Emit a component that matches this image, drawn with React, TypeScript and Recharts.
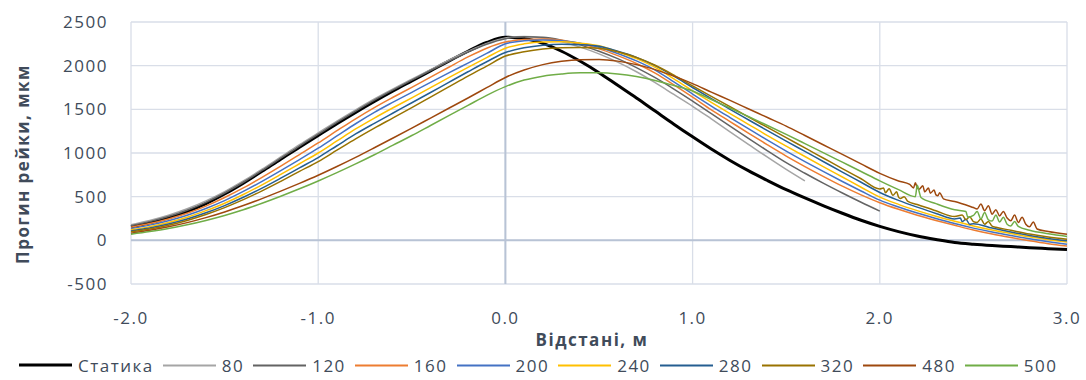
import React from 'react';
import { LineChart, Line, XAxis, YAxis, CartesianGrid, ReferenceLine } from 'recharts';

// distance grid, m
const X = [
  -2.0, -1.9, -1.8, -1.7, -1.6, -1.5, -1.4, -1.3, -1.2, -1.1,
  -1.0, -0.9, -0.8, -0.7, -0.6, -0.5, -0.4, -0.3, -0.2, -0.1,
  0.0, 0.1, 0.2, 0.3, 0.4, 0.5, 0.6, 0.7, 0.8, 0.9,
  1.0, 1.1, 1.2, 1.3, 1.4, 1.5, 1.6, 1.7, 1.8, 1.9,
  2.0, 2.1, 2.2, 2.3, 2.4, 2.5, 2.6, 2.7, 2.8, 2.9,
  3.0,
];

const X_TICKS = [-2, -1, 0, 1, 2, 3];
const Y_TICKS = [-500, 0, 500, 1000, 1500, 2000, 2500];

// rail deflection, mkm
const STATIC = [
  155, 200, 258, 330, 420, 530, 655, 790, 930, 1065,
  1200, 1335, 1465, 1590, 1710, 1825, 1940, 2055, 2165, 2265,
  2325, 2310, 2255, 2165, 2050, 1920, 1775, 1630, 1480, 1330,
  1185, 1045, 915, 795, 685, 580, 485, 395, 310, 230,
  160, 100, 50, 10, -25, -45, -60, -72, -85, -95,
  -105,
];
const V80 = [
  180, 228, 288, 362, 452, 558, 680, 815, 955, 1095,
  1230, 1365, 1495, 1620, 1735, 1845, 1955, 2065, 2165, 2255,
  2318, 2335, 2318, 2275, 2212, 2135, 2040, 1930, 1805, 1670,
  1535, 1390, 1243, 1097, 952, 812, 680, null, null, null,
  null, null, null, null, null, null, null, null, null, null,
  null,
];
const V120 = [
  168, 214, 272, 345, 435, 542, 665, 800, 940, 1080,
  1215, 1350, 1480, 1605, 1722, 1835, 1945, 2052, 2155, 2245,
  2308, 2330, 2325, 2292, 2238, 2165, 2080, 1978, 1862, 1732,
  1594, 1450, 1307, 1165, 1025, 889, 768, 652, 542, 436,
  335, null, null, null, null, null, null, null, null, null,
  null,
];
const V160 = [
  150, 192, 245, 310, 392, 490, 600, 722, 850, 982,
  1115, 1255, 1392, 1520, 1638, 1752, 1868, 1985, 2100, 2200,
  2270, 2300, 2305, 2290, 2250, 2192, 2115, 2025, 1915, 1780,
  1640, 1495, 1360, 1225, 1093, 965, 845, 730, 620, 520,
  430, 355, 288, 228, 172, 118, 72, 32, -5, -38,
  -65,
];
const V200 = [
  135, 174, 224, 287, 365, 455, 560, 675, 798, 925,
  1055, 1195, 1335, 1465, 1582, 1695, 1808, 1920, 2030, 2140,
  2250, 2285, 2295, 2285, 2258, 2212, 2140, 2055, 1950, 1815,
  1675, 1538, 1406, 1276, 1147, 1022, 902, 786, 674, 565,
  460, 382, 312, 250, 192, 140, 95, 55, 18, -15,
  -45,
];
const V240 = [
  120, 157, 205, 265, 340, 425, 525, 636, 755, 877,
  1000, 1138, 1275, 1400, 1518, 1632, 1748, 1865, 1980, 2092,
  2200, 2250, 2272, 2275, 2258, 2228, 2160, 2080, 1980, 1850,
  1712, 1580, 1452, 1326, 1200, 1079, 960, 842, 725, 608,
  495, 412, 340, 275, 218, 165, 118, 78, 40, 8,
  -20,
];
const V280 = [
  108, 142, 187, 244, 315, 398, 493, 598, 712, 830,
  948, 1083, 1218, 1340, 1458, 1575, 1693, 1812, 1930, 2045,
  2150, 2205, 2235, 2245, 2240, 2222, 2165, 2095, 2000, 1880,
  1750, 1623, 1500, 1378, 1256, 1136, 1018, 900, 782, 665,
  548, 458, 380, 308, 245, 190, 140, 95, 55, 22,
  -5,
];
const V320 = [
  98, 130, 173, 228, 296, 375, 466, 567, 676, 789,
  902, 1032, 1162, 1285, 1402, 1520, 1640, 1760, 1880, 1995,
  2110, 2160, 2192, 2205, 2208, 2200, 2160, 2095, 2005, 1892,
  1768, 1648, 1530, 1411, 1293, 1175, 1058, 940, 822, 705,
  588, 495, 410, 338, 272, 215, 162, 115, 72, 38,
  12,
];
const V480 = [
  82, 115, 155, 203, 260, 325, 398, 478, 563, 652,
  745, 845, 950, 1060, 1172, 1285, 1400, 1515, 1630, 1748,
  1865, 1950, 2012, 2050, 2068, 2070, 2052, 2012, 1955, 1880,
  1795, 1697, 1602, 1504, 1406, 1308, 1200, 1092, 984, 875,
  767, 680, 600, 520, 445, 375, 300, 225, 155, 100,
  70,
];
const V500 = [
  70, 100, 135, 178, 228, 285, 350, 425, 505, 590,
  680, 775, 875, 980, 1090, 1200, 1315, 1430, 1545, 1660,
  1760, 1835, 1880, 1905, 1918, 1918, 1905, 1875, 1830, 1772,
  1710, 1612, 1515, 1415, 1315, 1213, 1108, 1002, 895, 788,
  680, 580, 495, 420, 350, 285, 220, 165, 115, 75,
  45,
];

// jittery tails (extra samples)
const N280_X = [2.43, 2.44, 2.46, 2.48];
const N280_Y = [255, 215, 240, 185];
const N320_X = [2.02, 2.03, 2.05, 2.07, 2.09, 2.11, 2.13, 2.15, 2.44, 2.46, 2.48, 2.52, 2.54, 2.56, 2.58, 2.62];
const N320_Y = [600, 545, 590, 515, 555, 480, 500, 445, 290, 235, 270, 205, 245, 185, 215, 150];
const N480_X = [2.16, 2.18, 2.19, 2.21, 2.23, 2.24, 2.26, 2.27, 2.29, 2.31, 2.32, 2.34, 2.52, 2.54, 2.56, 2.58, 2.62, 2.64, 2.66, 2.68, 2.72, 2.74, 2.76, 2.78, 2.82, 2.84];
const N480_Y = [640, 600, 660, 585, 625, 555, 600, 540, 575, 510, 545, 475, 360, 415, 340, 395, 350, 280, 330, 255, 290, 205, 265, 185, 210, 130];
const N500_X = [2.19, 2.2, 2.21, 2.22, 2.46, 2.47, 2.52, 2.54, 2.56, 2.58, 2.62, 2.64, 2.66, 2.68, 2.72, 2.74];
const N500_Y = [500, 630, 560, 490, 330, 265, 330, 245, 320, 235, 290, 210, 265, 185, 215, 160];

const SERIES = [
    { key: 's0', name: 'Статика', color: '#000000', width: 3, values: STATIC },
    { key: 's80', name: '80', color: '#A5A5A5', width: 1.5, values: V80 },
    { key: 's120', name: '120', color: '#636363', width: 1.5, values: V120 },
    { key: 's160', name: '160', color: '#ED7D31', width: 1.5, values: V160 },
    { key: 's200', name: '200', color: '#4472C4', width: 1.5, values: V200 },
    { key: 's240', name: '240', color: '#FFC000', width: 1.5, values: V240 },
    { key: 's280', name: '280', color: '#255E91', width: 1.5, values: V280, nx: N280_X, ny: N280_Y },
    { key: 's320', name: '320', color: '#997300', width: 1.5, values: V320, nx: N320_X, ny: N320_Y },
    { key: 's480', name: '480', color: '#9E480E', width: 1.5, values: V480, nx: N480_X, ny: N480_Y },
    { key: 's500', name: '500', color: '#70AD47', width: 1.5, values: V500, nx: N500_X, ny: N500_Y },
];

const FONT = '"Open Sans", sans-serif';
const TEXT = '#404B5A';

function buildRows() {
    // eslint-disable-next-line @typescript-eslint/no-explicit-any
    const map = new Map<string, any>();
    const put = (x: number, key: string, y: number) => {
        const k = x.toFixed(3);
        if (!map.has(k)) map.set(k, { x });
        map.get(k)[key] = y;
    };
    SERIES.forEach((s) => {
        s.values.forEach((v, i) => {
            if (v !== null) put(X[i], s.key, v);
        });
        if (s.nx) s.nx.forEach((x, i) => put(x, s.key, s.ny[i]));
    });
    return [...map.values()].sort((a, b) => a.x - b.x);
}

const rows = buildRows();
const tickStyle = { fill: TEXT, fontSize: 17, letterSpacing: 1.5 };

export default function App() {
    return (
        <div style={{ position: 'absolute', left: 0, top: 0, width: 1086, height: 380, background: '#fff', fontFamily: FONT }}>
            <LineChart width={1086} height={380} data={rows} margin={{ top: 22, right: 19, bottom: 66, left: 0 }}>
                <CartesianGrid stroke="#D9DEE8" strokeWidth={1.3} />
                <XAxis
                    dataKey="x"
                    type="number"
                    domain={[-2, 3]}
                    ticks={X_TICKS}
                    tickFormatter={(v: number) => v.toFixed(1)}
                    axisLine={false}
                    tickLine={false}
                    tickSize={0}
                    tickMargin={28}
                    height={30}
                    tick={tickStyle}
                />
                <YAxis
                    type="number"
                    domain={[-500, 2500]}
                    ticks={Y_TICKS}
                    axisLine={false}
                    tickLine={false}
                    tickSize={0}
                    tickMargin={23}
                    width={131}
                    tick={tickStyle}
                />
                <ReferenceLine y={0} stroke="#B8C3D5" strokeWidth={2} />
                <ReferenceLine x={0} stroke="#B8C3D5" strokeWidth={2} />
                {SERIES.map((s) => (
                    <Line
                        key={s.key}
                        type="monotone"
                        dataKey={s.key}
                        name={s.name}
                        stroke={s.color}
                        strokeWidth={s.width}
                        dot={false}
                        activeDot={false}
                        connectNulls
                        isAnimationActive={false}
                    />
                ))}
            </LineChart>

            <div style={{
                position: 'absolute', left: 22, top: 164, transform: 'translate(-50%, -50%) rotate(-90deg)',
                whiteSpace: 'nowrap', fontWeight: 700, fontSize: 17, letterSpacing: 1.5, color: TEXT,
            }}>
                Прогин рейки, мкм
            </div>
            <div style={{
                position: 'absolute', left: 592, top: 339, transform: 'translate(-50%, -50%)',
                whiteSpace: 'nowrap', fontWeight: 700, fontSize: 17, letterSpacing: 1.5, color: TEXT,
            }}>
                Відстані, м
            </div>

            {/* legend */}
            <div style={{
                position: 'absolute', left: 19, top: 365, transform: 'translateY(-50%)',
                display: 'flex', alignItems: 'center', whiteSpace: 'nowrap', fontSize: 17, letterSpacing: 1.5, color: TEXT,
            }}>
                {SERIES.map((s) => (
                    <div key={s.key} style={{ display: 'flex', alignItems: 'center', marginRight: 9 }}>
                        <div style={{ width: 53, height: s.width === 3 ? 3 : 2, background: s.color, marginRight: 6 }} />
                        <span>{s.name}</span>
                    </div>
                ))}
            </div>
        </div>
    );
}
